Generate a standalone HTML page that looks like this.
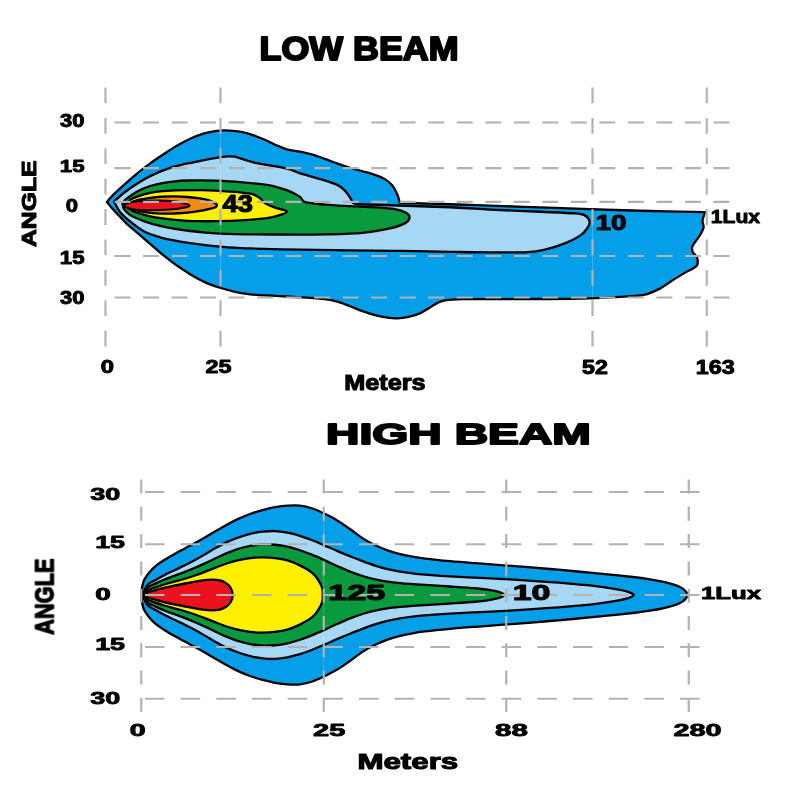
<!DOCTYPE html><html><head><meta charset="utf-8"><title>Beam pattern</title>
<style>html,body{margin:0;padding:0;background:#fff;}body{width:800px;height:800px;overflow:hidden;font-family:"Liberation Sans", sans-serif;}svg{display:block;font-family:"Liberation Sans", sans-serif;font-weight:bold;}</style></head><body>
<svg width="800" height="800" viewBox="0 0 800 800">
<rect width="800" height="800" fill="#fff"/>
<g>
<path d="M106.90,202.00C107.83,200.93 109.46,198.61 112.50,195.60C115.54,192.59 120.97,187.65 125.15,183.92C129.33,180.18 133.40,176.61 137.58,173.20C141.76,169.78 146.08,166.45 150.23,163.41C154.38,160.37 159.18,157.20 162.48,154.97C165.78,152.73 167.47,151.62 170.00,150.00C172.53,148.38 174.29,147.12 177.65,145.26C181.01,143.39 185.98,140.70 190.14,138.81C194.31,136.92 198.48,135.20 202.63,133.93C206.78,132.66 211.33,131.75 215.05,131.17C218.78,130.59 220.85,130.36 225.00,130.45C229.14,130.54 235.36,130.95 239.92,131.69C244.49,132.43 248.21,133.54 252.37,134.89C256.53,136.25 260.65,138.00 264.86,139.81C269.07,141.61 273.83,144.10 277.63,145.73C281.42,147.35 283.89,148.57 287.61,149.56C291.32,150.56 295.78,150.83 299.92,151.69C304.06,152.55 308.26,153.53 312.43,154.73C316.60,155.93 320.75,157.44 324.94,158.91C329.13,160.39 333.37,162.11 337.56,163.59C341.75,165.06 345.91,166.49 350.07,167.77C354.23,169.05 358.37,170.06 362.50,171.25C366.63,172.44 371.15,173.60 374.86,174.91C378.57,176.23 381.88,177.41 384.77,179.13C387.65,180.86 390.02,182.64 392.15,185.28C394.27,187.92 396.23,192.09 397.50,195.00C398.77,197.91 399.38,201.46 399.75,202.75C408.12,203.00 434.96,203.78 450.00,204.25C465.04,204.72 475.00,205.07 490.00,205.60C505.00,206.13 523.33,206.84 540.00,207.44C556.67,208.04 573.34,208.64 590.00,209.19C606.67,209.74 620.83,210.25 640.00,210.75C659.17,211.25 694.17,211.96 705.00,212.20C704.58,213.67 702.74,218.46 702.50,221.00C702.26,223.54 704.03,224.99 703.55,227.45C703.07,229.91 701.47,232.65 699.62,235.76C697.76,238.88 693.55,243.37 692.43,246.13C691.31,248.89 692.13,250.39 692.91,252.31C693.68,254.23 696.46,255.42 697.08,257.66C697.70,259.90 698.62,263.26 696.62,265.76C694.62,268.25 689.07,270.22 685.08,272.63C681.09,275.05 676.89,277.60 672.67,280.26C668.46,282.92 664.41,286.22 659.78,288.61C655.15,290.99 650.70,293.24 644.90,294.56C639.10,295.89 634.14,295.93 624.99,296.56C615.83,297.18 604.15,297.89 589.99,298.30C575.82,298.71 556.66,298.88 540.00,299.00C523.34,299.12 502.92,299.01 490.00,299.04C477.09,299.08 470.00,298.97 462.51,299.20C455.03,299.43 449.22,299.82 445.09,300.44C440.95,301.06 440.22,301.74 437.70,302.90C435.18,304.07 432.94,305.70 429.96,307.44C426.98,309.18 423.57,311.74 419.81,313.34C416.06,314.94 411.13,316.23 407.41,317.06C403.69,317.89 400.80,318.20 397.49,318.30C394.18,318.40 391.28,318.19 387.55,317.66C383.82,317.12 379.27,316.19 375.11,315.09C370.95,314.00 366.75,312.56 362.56,311.09C358.38,309.61 354.20,307.82 350.00,306.25C345.80,304.68 341.55,302.86 337.37,301.68C333.20,300.51 331.17,299.93 324.94,299.20C318.71,298.46 308.33,297.83 300.00,297.29C291.68,296.74 283.32,296.41 274.99,295.91C266.67,295.41 256.70,294.99 250.05,294.30C243.40,293.62 240.08,292.90 235.09,291.81C230.09,290.72 225.06,289.34 220.08,287.76C215.09,286.18 210.17,284.60 205.18,282.34C200.20,280.08 195.15,277.22 190.17,274.22C185.18,271.23 180.26,268.00 175.26,264.39C170.27,260.77 165.24,256.70 160.18,252.53C155.13,248.36 149.95,243.69 144.91,239.36C139.87,235.03 133.23,229.41 129.95,226.56C126.68,223.70 128.17,225.19 125.26,222.23C122.35,219.26 115.56,212.12 112.50,208.75C109.44,205.38 107.83,203.12 106.90,202.00Z" fill="#059fe9" stroke="#000" stroke-width="2.30" stroke-linejoin="round"/>
<path d="M114.00,201.50C115.83,199.92 121.04,195.05 125.00,192.00C128.96,188.95 133.55,185.82 137.74,183.18C141.94,180.53 146.02,178.21 150.16,176.12C154.30,174.04 158.45,172.27 162.60,170.66C166.75,169.05 170.91,167.66 175.07,166.45C179.23,165.24 183.41,164.31 187.56,163.40C191.71,162.50 195.38,161.89 199.96,161.02C204.54,160.15 210.44,158.95 215.04,158.19C219.63,157.42 224.22,156.70 227.53,156.45C230.84,156.20 231.99,156.12 234.91,156.69C237.83,157.26 241.67,158.87 245.04,159.89C248.40,160.91 251.77,162.03 255.10,162.81C258.42,163.60 261.26,163.96 264.99,164.60C268.72,165.23 273.33,165.82 277.48,166.62C281.62,167.43 286.08,168.31 289.86,169.43C293.64,170.54 294.32,171.49 300.15,173.33C305.99,175.16 318.68,178.49 324.87,180.42C331.06,182.35 333.99,183.25 337.29,184.90C340.59,186.55 342.56,188.21 344.67,190.31C346.79,192.41 348.61,195.39 350.00,197.50C351.39,199.61 352.50,202.08 353.00,203.00C353.67,203.21 356.33,204.04 357.00,204.25C372.50,204.75 427.83,206.35 450.00,207.25C472.17,208.15 475.02,208.87 490.02,209.63C505.02,210.38 525.85,211.12 540.00,211.76C554.15,212.39 567.49,212.84 574.95,213.45C582.41,214.05 582.33,214.07 584.77,215.38C587.20,216.70 589.17,219.14 589.56,221.33C589.95,223.52 588.75,226.09 587.12,228.51C585.48,230.94 583.45,233.42 579.74,235.88C576.02,238.35 570.64,241.05 564.83,243.33C559.03,245.61 551.13,248.11 544.90,249.56C538.67,251.01 536.62,251.58 527.47,252.05C518.32,252.52 502.91,252.42 490.00,252.38C477.09,252.34 465.01,252.06 450.00,251.81C435.00,251.55 416.66,251.13 399.99,250.87C383.33,250.62 366.67,250.50 350.00,250.30C333.34,250.10 316.67,249.96 300.00,249.65C283.34,249.34 260.84,248.78 250.01,248.47C239.18,248.15 240.00,248.07 235.00,247.76C230.00,247.46 225.01,247.08 220.01,246.64C215.01,246.20 210.01,245.72 205.01,245.14C200.01,244.56 195.02,243.90 190.02,243.15C185.02,242.40 180.00,241.61 175.02,240.64C170.04,239.67 165.09,238.74 160.12,237.32C155.15,235.89 150.18,234.71 145.21,232.10C140.23,229.49 134.49,225.01 130.29,221.66C126.09,218.31 122.71,215.36 120.00,212.00C117.29,208.64 115.00,203.25 114.00,201.50Z" fill="#a6d8f6" stroke="#000" stroke-width="2.30" stroke-linejoin="round"/>
<path d="M122.50,204.00C123.08,203.20 123.46,201.33 126.00,199.20C128.54,197.07 133.70,193.39 137.72,191.19C141.74,189.00 146.00,187.39 150.14,186.03C154.27,184.67 158.40,183.81 162.55,183.02C166.70,182.23 170.87,181.70 175.03,181.28C179.19,180.87 183.34,180.66 187.50,180.50C191.67,180.34 195.42,180.31 200.00,180.35C204.58,180.38 208.34,180.39 215.00,180.69C221.66,180.99 231.64,181.47 239.97,182.15C248.30,182.82 259.14,183.99 264.97,184.73C270.79,185.47 271.19,185.63 274.92,186.58C278.65,187.53 283.20,188.75 287.33,190.42C291.47,192.09 296.74,194.65 299.72,196.60C302.70,198.55 301.00,200.78 305.22,202.11C309.44,203.44 317.57,203.92 325.04,204.59C332.50,205.26 341.68,205.67 350.00,206.13C358.33,206.58 367.50,206.81 374.98,207.32C382.47,207.83 389.74,208.27 394.91,209.19C400.08,210.12 403.55,211.48 405.99,212.87C408.43,214.25 409.76,215.74 409.55,217.49C409.34,219.25 408.02,221.58 404.74,223.38C401.47,225.18 396.94,226.73 389.89,228.31C382.84,229.89 373.27,231.84 362.45,232.85C351.64,233.86 337.07,234.08 324.99,234.36C312.92,234.64 302.50,234.54 290.00,234.53C277.50,234.53 259.17,234.39 250.00,234.33C240.83,234.26 240.00,234.27 235.00,234.15C230.00,234.03 225.00,233.89 220.00,233.63C215.01,233.36 210.02,233.01 205.02,232.58C200.02,232.14 195.00,231.61 190.00,231.00C185.00,230.39 180.04,229.75 175.05,228.91C170.06,228.06 165.05,227.14 160.07,225.92C155.09,224.69 150.12,223.37 145.15,221.58C140.18,219.78 133.79,217.23 130.26,215.13C126.74,213.04 125.29,210.86 124.00,209.00C122.71,207.14 122.75,204.83 122.50,204.00Z" fill="#0a9a3e" stroke="#000" stroke-width="2.30" stroke-linejoin="round"/>
<path d="M125.00,204.60C126.00,203.72 128.73,200.71 131.00,199.30C133.27,197.89 135.45,197.22 138.63,196.16C141.82,195.10 146.11,193.77 150.09,192.94C154.07,192.11 158.36,191.61 162.52,191.19C166.67,190.76 170.84,190.56 175.00,190.37C179.17,190.19 183.34,190.11 187.50,190.06C191.67,190.02 195.42,190.02 200.00,190.11C204.58,190.21 208.33,190.26 214.99,190.62C221.66,190.99 233.74,191.74 239.97,192.33C246.20,192.92 249.07,193.26 252.37,194.18C255.66,195.10 257.57,196.31 259.72,197.85C261.87,199.39 262.70,201.76 265.27,203.39C267.84,205.02 271.50,206.28 275.13,207.64C278.76,209.00 286.68,210.17 287.05,211.54C287.42,212.90 281.04,214.67 277.36,215.82C273.67,216.98 271.16,217.68 264.94,218.45C258.71,219.23 248.31,219.99 239.98,220.45C231.66,220.91 221.66,221.08 215.00,221.21C208.34,221.33 204.58,221.28 200.00,221.22C195.42,221.15 191.67,221.05 187.51,220.83C183.34,220.61 179.17,220.30 175.01,219.90C170.84,219.51 166.68,219.05 162.52,218.45C158.36,217.85 154.04,217.19 150.06,216.31C146.08,215.43 141.83,214.23 138.65,213.18C135.48,212.13 133.28,211.43 131.00,210.00C128.72,208.57 126.00,205.50 125.00,204.60Z" fill="#fff000" stroke="#000" stroke-width="2.30" stroke-linejoin="round"/>
<path d="M127.00,205.00C128.50,204.27 132.16,201.77 136.00,200.60C139.84,199.43 145.64,198.66 150.06,198.01C154.48,197.36 158.36,196.97 162.51,196.71C166.67,196.45 170.84,196.40 175.00,196.45C179.16,196.50 183.33,196.66 187.49,196.99C191.64,197.31 196.22,197.79 199.95,198.41C203.68,199.04 207.30,199.91 209.85,200.72C212.40,201.54 214.05,202.56 215.25,203.32C216.45,204.08 217.29,204.50 217.05,205.27C216.81,206.03 216.65,206.96 213.80,207.89C210.96,208.83 204.37,210.10 199.98,210.89C195.59,211.69 191.63,212.22 187.46,212.65C183.30,213.09 179.16,213.34 175.00,213.50C170.84,213.66 166.66,213.73 162.50,213.63C158.34,213.52 153.95,213.34 150.05,212.89C146.15,212.44 141.94,211.58 139.10,210.93C136.26,210.29 135.02,209.99 133.00,209.00C130.98,208.01 128.00,205.67 127.00,205.00Z" fill="#f18b14" stroke="#000" stroke-width="2.30" stroke-linejoin="round"/>
<path d="M124.05,205.42C124.38,204.18 128.94,202.57 134.10,201.74C139.26,200.91 148.20,200.53 155.00,200.45C161.81,200.37 169.80,200.72 174.94,201.25C180.08,201.77 183.41,202.93 185.84,203.62C188.28,204.31 189.71,204.74 189.55,205.39C189.39,206.05 188.13,206.87 184.86,207.57C181.60,208.27 175.78,209.14 169.97,209.60C164.16,210.07 156.31,210.42 150.01,210.35C143.70,210.28 136.44,209.99 132.12,209.17C127.79,208.34 123.72,206.66 124.05,205.42Z" fill="#ea131d" stroke="#000" stroke-width="2.00" stroke-linejoin="round"/>
</g>
<g>
<line x1="114.50" y1="122.50" x2="729.42" y2="122.50" stroke="#b2b2b2" stroke-width="2.20" stroke-dasharray="16.00 12.52"/>
<line x1="114.50" y1="168.20" x2="729.42" y2="168.20" stroke="#b2b2b2" stroke-width="2.20" stroke-dasharray="16.00 12.52"/>
<line x1="114.50" y1="201.90" x2="729.42" y2="201.90" stroke="#b2b2b2" stroke-width="2.20" stroke-dasharray="16.00 12.52"/>
<line x1="114.50" y1="256.00" x2="729.42" y2="256.00" stroke="#b2b2b2" stroke-width="2.20" stroke-dasharray="16.00 12.52"/>
<line x1="114.50" y1="297.50" x2="729.42" y2="297.50" stroke="#b2b2b2" stroke-width="2.20" stroke-dasharray="16.00 12.52"/>
<line x1="220.50" y1="131.0" x2="220.50" y2="288.0" stroke="#fff" stroke-opacity="0.25" stroke-width="0.8"/>
<line x1="592.50" y1="210.5" x2="592.50" y2="298.0" stroke="#fff" stroke-opacity="0.25" stroke-width="0.8"/>
<line x1="105.50" y1="87.50" x2="105.50" y2="346.50" stroke="#b2b2b2" stroke-width="2.20" stroke-dasharray="15.80 14.60"/>
<line x1="220.50" y1="87.50" x2="220.50" y2="346.50" stroke="#b2b2b2" stroke-width="2.20" stroke-dasharray="15.80 14.60"/>
<line x1="592.50" y1="87.50" x2="592.50" y2="346.50" stroke="#b2b2b2" stroke-width="2.20" stroke-dasharray="15.80 14.60"/>
<line x1="706.75" y1="87.50" x2="706.75" y2="346.50" stroke="#b2b2b2" stroke-width="2.20" stroke-dasharray="15.80 14.60"/>
</g>
<g>
<path d="M141.40,595.00C141.40,593.01 141.49,591.18 141.81,589.03C142.14,586.88 142.77,583.93 143.35,582.12C143.92,580.30 144.11,579.90 145.24,578.15C146.36,576.39 148.45,573.57 150.12,571.60C151.80,569.64 152.80,568.34 155.29,566.34C157.78,564.34 161.75,561.70 165.06,559.59C168.36,557.48 171.79,555.56 175.11,553.69C178.42,551.83 181.63,550.18 184.95,548.40C188.26,546.62 191.67,544.83 195.00,543.00C198.33,541.17 201.61,539.32 204.95,537.41C208.28,535.49 211.66,533.47 215.01,531.52C218.36,529.57 221.27,527.75 225.05,525.69C228.83,523.62 233.51,521.08 237.68,519.13C241.85,517.18 245.93,515.49 250.08,513.97C254.23,512.46 258.42,511.16 262.58,510.04C266.74,508.92 270.88,507.97 275.04,507.24C279.20,506.52 283.38,505.94 287.53,505.69C291.68,505.43 295.81,505.22 299.95,505.70C304.09,506.17 308.18,507.14 312.35,508.53C316.53,509.91 320.84,512.04 324.99,514.02C329.14,516.00 333.13,517.90 337.27,520.39C341.42,522.88 345.60,525.95 349.85,528.95C354.10,531.95 358.53,535.66 362.75,538.38C366.97,541.09 371.04,543.23 375.18,545.22C379.32,547.21 383.44,548.85 387.59,550.33C391.74,551.81 395.92,553.03 400.08,554.09C404.23,555.16 408.37,556.00 412.53,556.74C416.69,557.49 418.78,557.82 425.02,558.55C431.27,559.29 441.68,560.36 450.01,561.14C458.34,561.92 466.68,562.56 475.01,563.21C483.34,563.86 491.66,564.43 500.00,565.05C508.33,565.67 516.66,566.29 525.00,566.95C533.33,567.61 541.66,568.31 550.00,569.02C558.33,569.74 565.83,570.40 575.00,571.24C584.16,572.07 595.00,573.05 605.00,574.05C614.99,575.05 627.47,576.37 634.97,577.25C642.47,578.13 645.00,578.50 649.99,579.32C654.98,580.14 660.44,581.12 664.92,582.17C669.39,583.22 673.88,584.55 676.85,585.62C679.82,586.70 681.15,587.51 682.74,588.62C684.33,589.72 685.62,591.16 686.40,592.23C687.19,593.29 687.45,594.08 687.45,595.00C687.45,595.92 687.19,596.71 686.40,597.77C685.62,598.84 684.33,600.28 682.74,601.38C681.15,602.49 679.82,603.30 676.85,604.38C673.88,605.45 669.39,606.78 664.92,607.83C660.44,608.88 654.98,609.86 649.99,610.68C645.00,611.50 642.47,611.87 634.97,612.75C627.47,613.63 614.99,614.95 605.00,615.95C595.00,616.95 584.16,617.93 575.00,618.76C565.83,619.60 558.33,620.26 550.00,620.98C541.66,621.69 533.33,622.39 525.00,623.05C516.66,623.71 508.33,624.33 500.00,624.95C491.66,625.57 483.34,626.14 475.01,626.79C466.68,627.44 458.34,628.08 450.01,628.86C441.68,629.64 431.27,630.71 425.02,631.45C418.78,632.18 416.69,632.51 412.53,633.26C408.37,634.00 404.23,634.84 400.08,635.91C395.92,636.97 391.74,638.19 387.59,639.67C383.44,641.15 379.32,642.79 375.18,644.78C371.04,646.77 366.97,648.91 362.75,651.62C358.53,654.34 354.10,658.05 349.85,661.05C345.60,664.05 341.42,667.12 337.27,669.61C333.13,672.10 329.14,674.00 324.99,675.98C320.84,677.96 316.53,680.09 312.35,681.47C308.18,682.86 304.09,683.83 299.95,684.30C295.81,684.78 291.68,684.57 287.53,684.31C283.38,684.06 279.20,683.48 275.04,682.76C270.88,682.03 266.74,681.08 262.58,679.96C258.42,678.84 254.23,677.54 250.08,676.03C245.93,674.51 241.85,672.82 237.68,670.87C233.51,668.92 228.83,666.38 225.05,664.31C221.27,662.25 218.36,660.43 215.01,658.48C211.66,656.53 208.28,654.51 204.95,652.59C201.61,650.68 198.33,648.83 195.00,647.00C191.67,645.17 188.26,643.38 184.95,641.60C181.63,639.82 178.42,638.17 175.11,636.31C171.79,634.44 168.36,632.52 165.06,630.41C161.75,628.30 157.78,625.66 155.29,623.66C152.80,621.66 151.80,620.36 150.12,618.40C148.45,616.43 146.36,613.61 145.24,611.85C144.11,610.10 143.92,609.70 143.35,607.88C142.77,606.07 142.14,603.12 141.81,600.97C141.49,598.82 141.40,596.99 141.40,595.00Z" fill="#059fe9" stroke="#000" stroke-width="2.30" stroke-linejoin="round"/>
<path d="M142.20,595.00C143.08,593.33 145.35,587.47 147.50,585.00C149.65,582.53 152.18,581.90 155.11,580.18C158.04,578.47 161.79,576.40 165.10,574.70C168.41,573.00 171.70,571.57 175.00,570.00C178.30,568.43 181.57,566.97 184.90,565.30C188.23,563.63 191.66,561.82 195.00,560.00C198.34,558.18 201.58,556.31 204.92,554.37C208.26,552.43 211.67,550.28 215.04,548.37C218.42,546.46 221.44,544.68 225.20,542.90C228.95,541.13 233.43,539.22 237.58,537.72C241.73,536.22 245.94,534.92 250.10,533.91C254.26,532.90 258.40,532.12 262.55,531.64C266.69,531.17 270.84,530.88 274.98,531.05C279.13,531.22 283.26,531.86 287.42,532.66C291.58,533.46 295.76,534.57 299.93,535.84C304.09,537.11 308.22,538.63 312.40,540.26C316.57,541.89 320.80,543.80 325.00,545.61C329.19,547.42 333.39,549.34 337.56,551.11C341.73,552.89 345.84,554.58 350.00,556.25C354.16,557.92 358.36,559.60 362.54,561.15C366.72,562.71 370.90,564.25 375.07,565.59C379.24,566.92 383.40,568.12 387.56,569.14C391.72,570.16 395.88,570.97 400.04,571.68C404.19,572.39 408.35,572.92 412.51,573.41C416.67,573.90 418.76,574.13 425.01,574.63C431.26,575.12 441.67,575.87 450.01,576.39C458.34,576.90 466.67,577.30 475.00,577.71C483.34,578.13 491.66,578.46 499.99,578.89C508.33,579.32 516.66,579.76 525.00,580.29C533.33,580.81 541.66,581.41 549.99,582.04C558.32,582.66 568.34,583.48 575.00,584.05C581.67,584.62 584.98,584.90 589.98,585.45C594.98,586.00 599.98,586.62 604.98,587.35C609.98,588.08 616.25,589.12 619.99,589.82C623.72,590.53 625.31,590.92 627.40,591.57C629.49,592.23 631.52,593.20 632.55,593.77C633.57,594.34 633.55,594.59 633.55,595.00C633.55,595.41 633.57,595.66 632.55,596.23C631.52,596.80 629.49,597.77 627.40,598.43C625.31,599.08 623.72,599.47 619.99,600.18C616.25,600.88 609.98,601.92 604.98,602.65C599.98,603.38 594.98,604.00 589.98,604.55C584.98,605.10 581.67,605.38 575.00,605.95C568.34,606.52 558.32,607.34 549.99,607.96C541.66,608.59 533.33,609.19 525.00,609.71C516.66,610.24 508.33,610.68 499.99,611.11C491.66,611.54 483.34,611.87 475.00,612.29C466.67,612.70 458.34,613.10 450.01,613.61C441.67,614.13 431.26,614.88 425.01,615.37C418.76,615.87 416.67,616.10 412.51,616.59C408.35,617.08 404.19,617.61 400.04,618.32C395.88,619.03 391.72,619.84 387.56,620.86C383.40,621.88 379.24,623.08 375.07,624.41C370.90,625.75 366.72,627.29 362.54,628.85C358.36,630.40 354.16,632.08 350.00,633.75C345.84,635.42 341.73,637.11 337.56,638.89C333.39,640.66 329.19,642.58 325.00,644.39C320.80,646.20 316.57,648.11 312.40,649.74C308.22,651.37 304.09,652.89 299.93,654.16C295.76,655.43 291.58,656.54 287.42,657.34C283.26,658.14 279.13,658.78 274.98,658.95C270.84,659.12 266.69,658.83 262.55,658.36C258.40,657.88 254.26,657.10 250.10,656.09C245.94,655.08 241.73,653.78 237.58,652.28C233.43,650.78 228.95,648.87 225.20,647.10C221.44,645.32 218.42,643.54 215.04,641.63C211.67,639.72 208.26,637.57 204.92,635.63C201.58,633.69 198.34,631.82 195.00,630.00C191.66,628.18 188.23,626.37 184.90,624.70C181.57,623.03 178.30,621.57 175.00,620.00C171.70,618.43 168.41,617.00 165.10,615.30C161.79,613.60 158.04,611.53 155.11,609.82C152.18,608.10 149.65,607.47 147.50,605.00C145.35,602.53 143.08,596.67 142.20,595.00Z" fill="#a6d8f6" stroke="#000" stroke-width="2.30" stroke-linejoin="round"/>
<path d="M142.50,595.00C143.33,593.75 145.40,589.39 147.50,587.50C149.60,585.61 152.14,585.02 155.07,583.64C158.00,582.26 161.76,580.57 165.09,579.22C168.41,577.86 171.69,576.73 175.00,575.50C178.31,574.27 181.61,573.13 184.94,571.85C188.27,570.56 191.66,569.19 194.99,567.78C198.32,566.36 201.59,564.89 204.93,563.36C208.27,561.82 211.67,560.12 215.02,558.55C218.38,556.98 221.31,555.49 225.08,553.93C228.85,552.36 233.47,550.49 237.64,549.17C241.80,547.84 245.92,546.76 250.07,545.97C254.22,545.19 258.37,544.65 262.52,544.45C266.67,544.25 270.82,544.39 274.97,544.76C279.11,545.13 283.24,545.78 287.40,546.69C291.56,547.60 295.75,548.85 299.92,550.22C304.10,551.60 308.26,553.23 312.43,554.92C316.60,556.61 320.78,558.50 324.96,560.38C329.15,562.26 333.34,564.32 337.53,566.19C341.72,568.06 345.94,569.98 350.11,571.62C354.29,573.25 358.42,574.72 362.58,576.00C366.73,577.28 370.88,578.36 375.05,579.30C379.21,580.23 383.38,580.98 387.54,581.61C391.70,582.23 395.84,582.64 400.00,583.05C404.16,583.46 408.34,583.76 412.50,584.08C416.67,584.39 418.75,584.54 425.00,584.95C431.25,585.36 441.67,585.97 450.00,586.52C458.33,587.08 468.74,587.74 474.99,588.27C481.23,588.79 483.32,589.02 487.46,589.69C491.60,590.37 497.06,591.43 499.82,592.31C502.59,593.20 504.05,594.10 504.05,595.00C504.05,595.90 502.59,596.80 499.82,597.69C497.06,598.57 491.60,599.63 487.46,600.31C483.32,600.98 481.23,601.21 474.99,601.73C468.74,602.26 458.33,602.92 450.00,603.48C441.67,604.03 431.25,604.64 425.00,605.05C418.75,605.46 416.67,605.61 412.50,605.92C408.34,606.24 404.16,606.54 400.00,606.95C395.84,607.36 391.70,607.77 387.54,608.39C383.38,609.02 379.21,609.77 375.05,610.70C370.88,611.64 366.73,612.72 362.58,614.00C358.42,615.28 354.29,616.75 350.11,618.38C345.94,620.02 341.72,621.94 337.53,623.81C333.34,625.68 329.15,627.74 324.96,629.62C320.78,631.50 316.60,633.39 312.43,635.08C308.26,636.77 304.10,638.40 299.92,639.78C295.75,641.15 291.56,642.40 287.40,643.31C283.24,644.22 279.11,644.87 274.97,645.24C270.82,645.61 266.67,645.75 262.52,645.55C258.37,645.35 254.22,644.81 250.07,644.03C245.92,643.24 241.80,642.16 237.64,640.83C233.47,639.51 228.85,637.64 225.08,636.07C221.31,634.51 218.38,633.02 215.02,631.45C211.67,629.88 208.27,628.18 204.93,626.64C201.59,625.11 198.32,623.64 194.99,622.22C191.66,620.81 188.27,619.44 184.94,618.15C181.61,616.87 178.31,615.73 175.00,614.50C171.69,613.27 168.41,612.14 165.09,610.78C161.76,609.43 158.00,607.74 155.07,606.36C152.14,604.98 149.60,604.39 147.50,602.50C145.40,600.61 143.33,596.25 142.50,595.00Z" fill="#0a9a3e" stroke="#000" stroke-width="2.30" stroke-linejoin="round"/>
<path d="M142.80,595.00C143.58,594.25 145.46,591.73 147.50,590.50C149.54,589.27 152.11,588.64 155.04,587.59C157.96,586.55 161.74,585.25 165.07,584.23C168.40,583.21 171.69,582.41 175.00,581.50C178.31,580.59 181.60,579.77 184.93,578.77C188.26,577.77 191.66,576.65 195.00,575.50C198.34,574.35 201.61,573.13 204.94,571.85C208.28,570.57 211.65,569.14 215.01,567.83C218.37,566.53 221.33,565.26 225.09,564.01C228.85,562.76 233.43,561.34 237.58,560.35C241.74,559.37 245.89,558.61 250.04,558.09C254.20,557.58 258.35,557.30 262.50,557.29C266.65,557.27 270.80,557.49 274.95,558.02C279.09,558.54 283.23,559.20 287.37,560.43C291.52,561.66 295.66,563.33 299.80,565.40C303.94,567.47 309.11,570.37 312.21,572.84C315.30,575.32 316.73,577.78 318.37,580.25C320.02,582.71 321.33,585.16 322.07,587.62C322.80,590.08 322.80,592.54 322.80,595.00C322.80,597.46 322.80,599.92 322.07,602.38C321.33,604.84 320.02,607.29 318.37,609.75C316.73,612.22 315.30,614.68 312.21,617.16C309.11,619.63 303.94,622.53 299.80,624.60C295.66,626.67 291.52,628.34 287.37,629.57C283.23,630.80 279.09,631.46 274.95,631.98C270.80,632.51 266.65,632.73 262.50,632.71C258.35,632.70 254.20,632.42 250.04,631.91C245.89,631.39 241.74,630.63 237.58,629.65C233.43,628.66 228.85,627.24 225.09,625.99C221.33,624.74 218.37,623.47 215.01,622.17C211.65,620.86 208.28,619.43 204.94,618.15C201.61,616.87 198.34,615.65 195.00,614.50C191.66,613.35 188.26,612.23 184.93,611.23C181.60,610.23 178.31,609.41 175.00,608.50C171.69,607.59 168.40,606.79 165.07,605.77C161.74,604.75 157.96,603.45 155.04,602.41C152.11,601.36 149.54,600.73 147.50,599.50C145.46,598.27 143.58,595.75 142.80,595.00Z" fill="#fff000" stroke="#000" stroke-width="2.30" stroke-linejoin="round"/>
<path d="M143.00,595.00C143.75,594.58 145.50,593.28 147.50,592.50C149.50,591.72 152.08,591.13 155.01,590.33C157.93,589.52 161.71,588.49 165.05,587.69C168.38,586.88 171.67,586.20 175.00,585.50C178.33,584.80 181.66,584.15 185.00,583.50C188.34,582.85 191.69,582.19 195.02,581.62C198.36,581.05 202.18,580.43 205.01,580.10C207.84,579.77 209.52,579.59 212.00,579.65C214.48,579.71 217.60,579.90 219.89,580.44C222.18,580.97 223.96,581.66 225.75,582.87C227.54,584.09 229.45,585.71 230.61,587.73C231.78,589.75 232.75,592.58 232.75,595.00C232.75,597.42 231.78,600.25 230.61,602.27C229.45,604.29 227.54,605.91 225.75,607.13C223.96,608.34 222.18,609.03 219.89,609.56C217.60,610.10 214.48,610.29 212.00,610.35C209.52,610.41 207.84,610.23 205.01,609.90C202.18,609.57 198.36,608.95 195.02,608.38C191.69,607.81 188.34,607.15 185.00,606.50C181.66,605.85 178.33,605.20 175.00,604.50C171.67,603.80 168.38,603.12 165.05,602.31C161.71,601.51 157.93,600.48 155.01,599.67C152.08,598.87 149.50,598.28 147.50,597.50C145.50,596.72 143.75,595.42 143.00,595.00Z" fill="#ea131d" stroke="#000" stroke-width="2.30" stroke-linejoin="round"/>
</g>
<g>
<line x1="145.00" y1="492.00" x2="699.55" y2="492.00" stroke="#b2b2b2" stroke-width="2.20" stroke-dasharray="19.50 16.17"/>
<line x1="145.00" y1="544.25" x2="699.55" y2="544.25" stroke="#b2b2b2" stroke-width="2.20" stroke-dasharray="19.50 16.17"/>
<line x1="145.00" y1="595.00" x2="699.55" y2="595.00" stroke="#b2b2b2" stroke-width="2.20" stroke-dasharray="19.50 16.17"/>
<line x1="145.00" y1="647.00" x2="699.55" y2="647.00" stroke="#b2b2b2" stroke-width="2.20" stroke-dasharray="19.50 16.17"/>
<line x1="145.00" y1="698.75" x2="699.55" y2="698.75" stroke="#b2b2b2" stroke-width="2.20" stroke-dasharray="19.50 16.17"/>
<line x1="323.75" y1="513.0" x2="323.75" y2="677.0" stroke="#fff" stroke-opacity="0.25" stroke-width="0.8"/>
<line x1="506.25" y1="567.0" x2="506.25" y2="623.0" stroke="#fff" stroke-opacity="0.25" stroke-width="0.8"/>
<line x1="141.25" y1="479.50" x2="141.25" y2="711.90" stroke="#b2b2b2" stroke-width="2.20" stroke-dasharray="14.00 13.30"/>
<line x1="323.75" y1="479.50" x2="323.75" y2="711.90" stroke="#b2b2b2" stroke-width="2.20" stroke-dasharray="14.00 13.30"/>
<line x1="506.25" y1="479.50" x2="506.25" y2="711.90" stroke="#b2b2b2" stroke-width="2.20" stroke-dasharray="14.00 13.30"/>
<line x1="688.75" y1="479.50" x2="688.75" y2="711.90" stroke="#b2b2b2" stroke-width="2.20" stroke-dasharray="14.00 13.30"/>
</g>
<g fill="#000" stroke="#000" stroke-linejoin="round" opacity="0.999">
<text transform="matrix(0.8959,0,0,0.8300,259.50,59.67)" font-size="40" stroke-width="2.40">LOW BEAM</text>
<text transform="matrix(0.5511,0,0,0.4400,60.00,127.06)" font-size="40" stroke-width="2.00">30</text>
<text transform="matrix(0.5560,0,0,0.4300,59.79,172.47)" font-size="40" stroke-width="2.00">15</text>
<text transform="matrix(0.5524,0,0,0.4400,65.85,211.76)" font-size="40" stroke-width="2.00">0</text>
<text transform="matrix(0.5560,0,0,0.4417,59.79,264.06)" font-size="40" stroke-width="2.00">15</text>
<text transform="matrix(0.5511,0,0,0.4567,60.00,303.54)" font-size="40" stroke-width="2.00">30</text>
<text transform="matrix(0,-0.6187,0.5200,0,35.58,247.00)" font-size="40" stroke-width="2.00">ANGLE</text>
<text transform="matrix(0.5952,0,0,0.4583,100.65,373.29)" font-size="40" stroke-width="2.00">0</text>
<text transform="matrix(0.5852,0,0,0.4583,205.50,373.29)" font-size="40" stroke-width="2.00">25</text>
<text transform="matrix(0.5795,0,0,0.4917,582.00,373.76)" font-size="40" stroke-width="2.00">52</text>
<text transform="matrix(0.5820,0,0,0.4917,695.84,373.76)" font-size="40" stroke-width="2.00">163</text>
<text transform="matrix(0.6310,0,0,0.5667,344.24,390.18)" font-size="40" stroke-width="2.00">Meters</text>
<text transform="matrix(0.6818,0,0,0.5833,222.50,211.92)" font-size="40" stroke-width="2.00">43</text>
<text transform="matrix(0.6964,0,0,0.5583,595.61,229.94)" font-size="40" stroke-width="2.00">10</text>
<text transform="matrix(0.5299,0,0,0.4417,710.69,222.81)" font-size="40" stroke-width="2.00">1Lux</text>
<text transform="matrix(1.1575,0,0,0.7333,326.04,444.47)" font-size="40" stroke-width="2.40">HIGH BEAM</text>
<text transform="matrix(0.6750,0,0,0.4067,90.30,499.89)" font-size="40" stroke-width="2.00">30</text>
<text transform="matrix(0.6714,0,0,0.3950,95.16,547.71)" font-size="40" stroke-width="2.00">15</text>
<text transform="matrix(0.6952,0,0,0.4167,95.30,600.18)" font-size="40" stroke-width="2.00">0</text>
<text transform="matrix(0.6714,0,0,0.4267,95.16,650.17)" font-size="40" stroke-width="2.00">15</text>
<text transform="matrix(0.6750,0,0,0.4167,90.30,703.98)" font-size="40" stroke-width="2.00">30</text>
<text transform="matrix(0,-0.5446,0.6583,0,53.09,634.70)" font-size="40" stroke-width="2.00">ANGLE</text>
<text transform="matrix(0.7143,0,0,0.4267,129.79,735.97)" font-size="40" stroke-width="2.00">0</text>
<text transform="matrix(0.7250,0,0,0.4267,313.10,735.97)" font-size="40" stroke-width="2.00">25</text>
<text transform="matrix(0.7386,0,0,0.4333,495.00,736.07)" font-size="40" stroke-width="2.00">88</text>
<text transform="matrix(0.7197,0,0,0.4333,673.50,736.07)" font-size="40" stroke-width="2.00">280</text>
<text transform="matrix(0.7817,0,0,0.5667,357.44,769.43)" font-size="40" stroke-width="2.00">Meters</text>
<text transform="matrix(0.8538,0,0,0.5500,328.29,599.95)" font-size="40" stroke-width="2.00">125</text>
<text transform="matrix(0.8476,0,0,0.5400,512.70,600.06)" font-size="40" stroke-width="2.00">10</text>
<text transform="matrix(0.6440,0,0,0.4283,700.96,599.32)" font-size="40" stroke-width="2.00">1Lux</text>
</g>
</svg></body></html>
